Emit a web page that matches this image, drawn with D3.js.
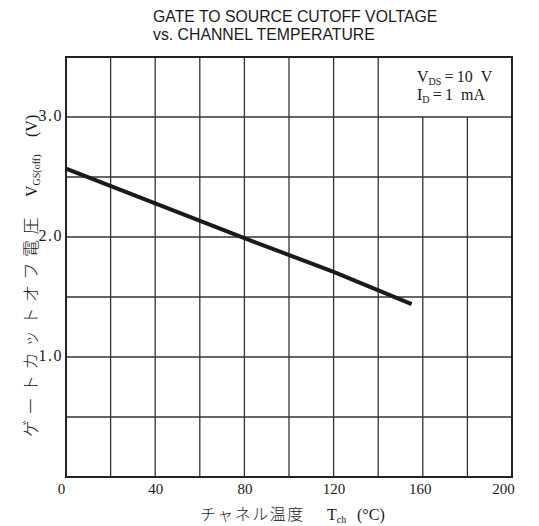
<!DOCTYPE html>
<html>
<head>
<meta charset="utf-8">
<script src="https://cdn.jsdelivr.net/npm/d3@7"></script>
<style>
  body { margin: 0; background: #fff; }
  text { fill: #1a1a1a; }
</style>
</head>
<body>
<div id="chart"></div>
<script>
// curve: channel temperature (°C) vs V_GS(off) (V)
var temps = [0, 40, 80, 120, 155];
var vgsOff = [2.57, 2.28, 1.99, 1.71, 1.44];

var xTicks = [0, 40, 80, 120, 160, 200];
var yTicks = [1.0, 2.0, 3.0];
var xGrid = d3.range(0, 201, 20);
var yGrid = d3.range(0, 3.51, 0.5);

var width = 539, height = 526;
var svg = d3.select("#chart").append("svg")
    .attr("width", width)
    .attr("height", height);

var x = d3.scaleLinear().domain([0, 200]).range([66, 512]);
var y = d3.scaleLinear().domain([0, 3.5]).range([477, 57]);

var serif = "'Liberation Serif', 'DejaVu Serif', serif";
var jp = "'Noto Sans CJK JP', sans-serif";

// grid - vertical lines stop under the legend box (top right cells)
svg.append("g").selectAll("line")
    .data(xGrid.filter(function (d) { return d > 0 && d < 200; }))
    .enter().append("line")
    .attr("x1", function (d) { return x(d); })
    .attr("x2", function (d) { return x(d); })
    .attr("y1", function (d) { return d > 140 ? y(3.0) : y(3.5); })
    .attr("y2", y(0))
    .attr("stroke", "#333")
    .attr("stroke-width", 1.3);

svg.append("g").selectAll("line")
    .data(yGrid.filter(function (d) { return d > 0 && d < 3.5; }))
    .enter().append("line")
    .attr("x1", x(0))
    .attr("x2", x(200))
    .attr("y1", function (d) { return y(d); })
    .attr("y2", function (d) { return y(d); })
    .attr("stroke", "#333")
    .attr("stroke-width", 1.3);

// frame
svg.append("rect")
    .attr("x", x(0))
    .attr("y", y(3.5))
    .attr("width", x(200) - x(0))
    .attr("height", y(0) - y(3.5))
    .attr("fill", "none")
    .attr("stroke", "#222")
    .attr("stroke-width", 2);

// axes (labels only, grid drawn above)
var xAxis = svg.append("g")
    .attr("transform", "translate(0," + y(0) + ")")
    .call(d3.axisBottom(x).tickValues(xTicks).tickSize(0).tickPadding(6).tickFormat(d3.format("d")));
xAxis.select(".domain").remove();
xAxis.selectAll("text")
    .style("font-family", serif)
    .style("font-size", "15px")
    .attr("fill", "#1a1a1a");
// labels at the ends are nudged inwards as in the print
var nudge = {0: -5, 160: -3, 200: -9};
xAxis.selectAll(".tick text").attr("dx", function (d) { return nudge[d] || 0; });

var yAxis = svg.append("g")
    .attr("transform", "translate(" + x(0) + ",0)")
    .call(d3.axisLeft(y).tickValues(yTicks).tickSize(0).tickPadding(3).tickFormat(d3.format(".1f")));
yAxis.select(".domain").remove();
yAxis.selectAll("text")
    .style("font-family", serif)
    .style("font-size", "16px")
    .style("letter-spacing", "1.5px")
    .attr("dy", "0.2em")
    .attr("fill", "#1a1a1a");

// the curve
var line = d3.line()
    .x(function (d, i) { return x(temps[i]); })
    .y(function (d) { return y(d); });

svg.append("path")
    .datum(vgsOff)
    .attr("d", line)
    .attr("fill", "none")
    .attr("stroke", "#1a1a1a")
    .attr("stroke-width", 4);

// title
var title = svg.append("text")
    .attr("x", 153)
    .attr("y", 22)
    .style("font-family", "'Liberation Sans', Arial, sans-serif")
    .style("font-size", "15.8px");
title.append("tspan").attr("x", 153).text("GATE TO SOURCE CUTOFF VOLTAGE");
title.append("tspan").attr("x", 153).attr("dy", 18).text("vs. CHANNEL TEMPERATURE");

// conditions
function sub(t, main, s, rest) {
    t.append("tspan").text(main);
    t.append("tspan").attr("dy", 3).style("font-size", "10px").text(s);
    t.append("tspan").attr("dy", -3).text(rest);
}
var cond = svg.append("text")
    .attr("x", 417)
    .attr("y", 82)
    .style("font-family", serif)
    .style("font-size", "16px");
sub(cond, "V", "DS", "\u2009=\u200910\u2002V");
var cond2 = svg.append("text")
    .attr("x", 417)
    .attr("y", 100)
    .style("font-family", serif)
    .style("font-size", "16px");
sub(cond2, "I", "D", "\u2009=\u20091\u2002mA");

// x axis title
var xt = svg.append("text")
    .attr("x", 200)
    .attr("y", 520)
    .style("font-family", serif)
    .style("font-size", "16px");
xt.append("tspan").style("font-family", jp).style("font-weight", "300")
    .style("font-size", "16px").style("letter-spacing", "1.5px").text("チャネル温度");
xt.append("tspan").attr("x", 327).text("T");
xt.append("tspan").attr("dy", 3).style("font-size", "10px").text("ch");
xt.append("tspan").attr("dy", -3).attr("x", 357).text("(°C)");

// y axis title
var yt = svg.append("text")
    .attr("transform", "translate(37,437) rotate(-90)")
    .style("font-family", serif)
    .style("font-size", "16px");
yt.append("tspan").style("font-family", jp).style("font-weight", "300")
    .style("font-size", "17px").style("letter-spacing", "5.5px").text("ゲートカットオフ電圧");
yt.append("tspan").attr("x", 240).text("V");
yt.append("tspan").attr("dy", 3).style("font-size", "10px").text("GS(off)");
yt.append("tspan").attr("dy", -3).attr("x", 300).text("(V)");
</script>
</body>
</html>
